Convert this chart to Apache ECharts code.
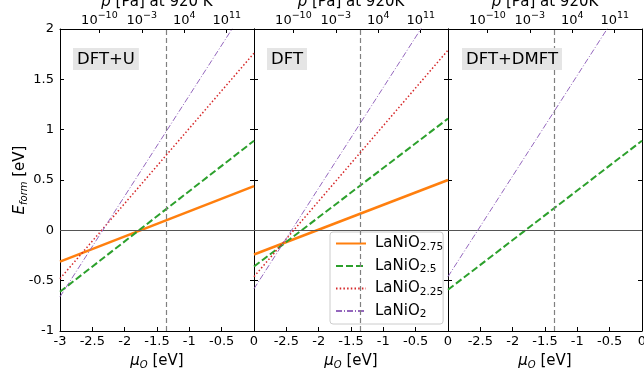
<!DOCTYPE html>
<html><head><meta charset="utf-8">
<script src="https://cdn.jsdelivr.net/npm/echarts@6/dist/echarts.min.js"></script>
<style>html,body{margin:0;padding:0;background:#fff}#c{width:644px;height:368px}</style>
</head><body><div id="c"></div>
<script>
// ---- data ----
const muRange = [-3, 0];
const seriesNames = ['LaNiO2.75', 'LaNiO2.5', 'LaNiO2.25', 'LaNiO2'];
const panelLabels = ['DFT+U', 'DFT', 'DFT+DMFT'];
const topTitles = ['p [Pa] at 920 K', 'p [Pa] at 920K', 'p [Pa] at 920K'];
// E_form at mu = -3 and mu = 0
const dftu_275 = [-0.31, 0.44];
const dftu_25  = [-0.61, 0.89];
const dftu_225 = [-0.48, 1.76];
const dftu_2   = [-0.66, 2.34];
const dft_275  = [-0.24, 0.50];
const dft_25   = [-0.36, 1.11];
const dft_225  = [-0.46, 1.79];
const dft_2    = [-0.58, 2.42];
const dmft_25  = [-0.59, 0.89];
const dmft_2   = [-0.46, 2.54];
const refMu = -1.365;
const topTickExponents = [-10, -3, 4, 11];
const logPRange = [-16.5, 15.5];

const panels = [
  [dftu_275, dftu_25, dftu_225, dftu_2],
  [dft_275, dft_25, dft_225, dft_2],
  [null, dmft_25, null, dmft_2]
];

const colors = ['#ff7f0e', '#2ca02c', '#d62728', '#9467bd'];
const lineStyles = [
  {width: 2.5, type: 'solid'},
  {width: 2, type: [7, 3]},
  {width: 1.5, type: [1.5, 2.2]},
  {width: 1, type: [6, 2, 1, 2]}
];
const FONT = 'DejaVu Sans';

const gridLeft = [60, 254, 448], gridW = 194, gridTop = 29, gridH = 302;
const grid = [], xAxis = [], yAxis = [], series = [], title = [];

for (let i = 0; i < 3; i++) {
  grid.push({left: gridLeft[i], top: gridTop, width: gridW, height: gridH, containLabel: false, outerBoundsMode: 'none'});
  // bottom x axis
  xAxis.push({
    type: 'value', gridIndex: i, min: muRange[0], max: muRange[1], interval: 0.5,
    position: 'bottom',
    axisLine: {onZero: false, lineStyle: {color: '#000', width: 1}},
    axisTick: {inside: true, length: 4, lineStyle: {color: '#000'}},
    splitLine: {show: false},
    axisLabel: {color: '#000', fontFamily: FONT, fontSize: 13, margin: 4,
      formatter: v => (i > 0 && v === -3) ? '' : String(v)},
    name: '{i|μ}{sub|O} [eV]', nameLocation: 'middle', nameGap: 21, nameMoveOverlap: false,
    nameTextStyle: {color: '#000', fontFamily: FONT, fontSize: 15,
      rich: {i: {fontStyle: 'italic', fontSize: 15, fontFamily: FONT},
             sub: {fontStyle: 'italic', fontSize: 10, fontFamily: FONT, verticalAlign: 'bottom', padding: [8, 0, 0, 0]}}}
  });
  // top x axis (pressure)
  xAxis.push({
    type: 'value', gridIndex: i, min: logPRange[0], max: logPRange[1],
    position: 'top',
    axisLine: {onZero: false, lineStyle: {color: '#000', width: 1}},
    axisTick: {inside: true, length: 4, customValues: topTickExponents, lineStyle: {color: '#000'}},
    splitLine: {show: false},
    axisLabel: {customValues: topTickExponents, margin: 2, color: '#000', fontFamily: FONT, fontSize: 13,
      formatter: v => '{b|10}{sup|' + (v < 0 ? '\u2212' + (-v) : v) + '}',
      rich: {b: {fontSize: 13, fontFamily: FONT, color: '#000', verticalAlign: 'bottom', lineHeight: 16},
             sup: {fontSize: 9.5, fontFamily: FONT, color: '#000', verticalAlign: 'top', lineHeight: 16, padding: [0, 0, 3, 0]}}},
    name: topTitles[i].replace(/^p/, '{i|p}'), nameLocation: 'middle', nameGap: 19, nameMoveOverlap: false,
    nameTextStyle: {color: '#000', fontFamily: FONT, fontSize: 15,
      rich: {i: {fontStyle: 'italic', fontSize: 15, fontFamily: FONT}}}
  });
  // left y axis
  yAxis.push({
    type: 'value', gridIndex: i, min: -1, max: 2, interval: 0.5, position: 'left',
    axisLine: {show: true, onZero: false, lineStyle: {color: '#000', width: 1}},
    axisTick: {show: true, inside: true, length: 4, lineStyle: {color: '#000'}},
    splitLine: {show: false},
    axisLabel: {show: i === 0, color: '#000', fontFamily: FONT, fontSize: 13, margin: 6},
    name: i === 0 ? '{i|E}{sub|form} [eV]' : '', nameLocation: 'middle', nameGap: 31, nameRotate: 90, nameMoveOverlap: false,
    nameTextStyle: {color: '#000', fontFamily: FONT, fontSize: 15,
      rich: {i: {fontStyle: 'italic', fontSize: 15, fontFamily: FONT},
             sub: {fontStyle: 'italic', fontSize: 10, fontFamily: FONT, verticalAlign: 'bottom', padding: [8, 0, 0, 0]}}}
  });
  // right y axis
  yAxis.push({
    type: 'value', gridIndex: i, min: -1, max: 2, interval: 0.5, position: 'right',
    axisLine: {show: true, onZero: false, lineStyle: {color: '#000', width: 1}},
    axisTick: {show: true, inside: true, length: 4, lineStyle: {color: '#000'}},
    splitLine: {show: false},
    axisLabel: {show: false}
  });

  title.push({
    text: panelLabels[i], left: [73, 267, 462][i], top: 48,
    backgroundColor: '#e5e5e5', padding: [3, 4, 2, 4],
    textStyle: {fontFamily: FONT, fontSize: 16.5, fontWeight: 'normal', color: '#000'}
  });

  let first = true;
  panels[i].forEach((vals, k) => {
    if (!vals) return;
    const s = {
      name: seriesNames[k], type: 'line', xAxisIndex: 2 * i, yAxisIndex: 2 * i,
      data: muRange.map((m, j) => [m, vals[j]]),
      symbol: 'none', showSymbol: false, clip: true, silent: true, animation: false,
      z: 3 + k,
      lineStyle: Object.assign({color: colors[k]}, lineStyles[k]),
      itemStyle: {color: colors[k]}
    };
    if (first) {
      s.markLine = {
        silent: true, symbol: 'none', animation: false, label: {show: false},
        data: [
          {yAxis: 0, lineStyle: {color: '#555', width: 1, type: 'solid'}},
          {xAxis: refMu, lineStyle: {color: '#808080', width: 1.2, type: [5, 3]}}
        ]
      };
      first = false;
    }
    series.push(s);
  });
}

const chart = echarts.init(document.getElementById('c'), null, {renderer: 'canvas'});
chart.setOption({
  animation: false,
  backgroundColor: '#fff',
  title: title,
  grid: grid, xAxis: xAxis, yAxis: yAxis, series: series,
  legend: {
    data: seriesNames, orient: 'vertical', left: 330, top: 232,
    backgroundColor: '#fff', borderColor: '#cccccc', borderWidth: 1, borderRadius: 3,
    padding: [4, 0, 4, 5], itemGap: 6, itemWidth: 30, itemHeight: 16,
    selectedMode: false,
    itemStyle: {color: 'rgba(0,0,0,0)', borderWidth: 0, opacity: 0},
    textStyle: {fontFamily: FONT, fontSize: 15, color: '#000', padding: [0, 0, 0, 4],
      rich: {sub: {fontFamily: FONT, fontSize: 10.5, color: '#000', verticalAlign: 'bottom', padding: [7, 0, 0, 0]}}},
    formatter: n => 'LaNiO{sub|' + n.replace('LaNiO', '') + '}'
  }
});
</script></body></html>
